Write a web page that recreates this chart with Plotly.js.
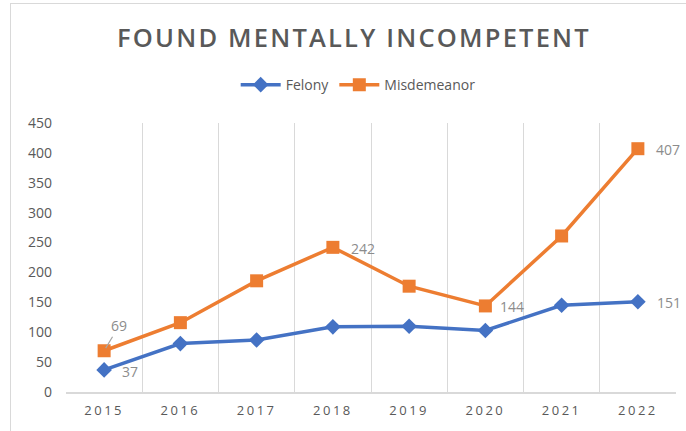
<!DOCTYPE html>
<html>
<head>
<meta charset="utf-8">
<script src="https://cdn.plot.ly/plotly-3.0.1.min.js"></script>
<style>
  html, body { margin: 0; padding: 0; background: #ffffff; overflow: hidden; }
  #frame { position: absolute; left: 10px; top: 3px; width: 700px; height: 460px;
           border-left: 1.5px solid #d9d9d9; border-top: 1.5px solid #d9d9d9; }
  #chart { position: absolute; left: 0; top: 0; width: 686px; height: 431px; }
  #chart .gtitle { letter-spacing: 2.2px; }
  #chart .xtick text { letter-spacing: 2.5px; }
</style>
</head>
<body>
<div id="frame"></div>
<div id="chart"></div>
<script>
const years = ['2015', '2016', '2017', '2018', '2019', '2020', '2021', '2022'];
const felony = [37, 81, 87, 109, 110, 103, 145, 151];
const misdemeanor = [69, 116, 186, 242, 177, 144, 261, 407];
const yTicks = [0, 50, 100, 150, 200, 250, 300, 350, 400, 450];

// which points carry a data label: [index, xshift, yshift]
const felonyLabels = [[0, 26, -2], [7, 31, -1]];
const misdLabels = [[3, 30, -1], [5, 27, -1], [7, 30, -1]];

const labelFont = { family: 'Open Sans, Liberation Sans, sans-serif', size: 14, color: '#8c8c8c' };

const annotations = [];
felonyLabels.forEach(function (d) {
  annotations.push({
    x: d[0], y: felony[d[0]], xref: 'x', yref: 'y', text: String(felony[d[0]]),
    showarrow: false, xshift: d[1], yshift: d[2], font: labelFont
  });
});
misdLabels.forEach(function (d) {
  annotations.push({
    x: d[0], y: misdemeanor[d[0]], xref: 'x', yref: 'y', text: String(misdemeanor[d[0]]),
    showarrow: false, xshift: d[1], yshift: d[2], font: labelFont
  });
});
// 2015 misdemeanor label with leader line
annotations.push({
  x: 0, y: misdemeanor[0], xref: 'x', yref: 'y', text: String(misdemeanor[0]),
  showarrow: true, arrowhead: 0, arrowwidth: 1.2, arrowcolor: '#a6a6a6',
  ax: 15, ay: -25, standoff: 3, font: labelFont
});

const traces = [
  {
    x: years, y: felony, name: 'Felony', type: 'scatter', mode: 'lines+markers',
    line: { color: '#4472C4', width: 3.5 },
    marker: { symbol: 'diamond', size: 12, color: '#4472C4' }
  },
  {
    x: years, y: misdemeanor, name: 'Misdemeanor', type: 'scatter', mode: 'lines+markers',
    line: { color: '#ED7D31', width: 3.5 },
    marker: { symbol: 'square', size: 13, color: '#ED7D31' }
  }
];

const layout = {
  width: 686, height: 431,
  paper_bgcolor: 'rgba(0,0,0,0)', plot_bgcolor: 'rgba(0,0,0,0)',
  margin: { l: 66, r: 10, t: 123, b: 39 },
  font: { family: 'Open Sans, Liberation Sans, sans-serif', color: '#595959' },
  title: {
    text: 'FOUND MENTALLY INCOMPETENT',
    x: 0.516, xref: 'container', xanchor: 'center',
    y: 1 - 38 / 431, yref: 'container', yanchor: 'middle',
    font: { family: 'Open Sans, sans-serif', size: 25.5, weight: 600, color: '#595959' }
  },
  showlegend: true,
  legend: {
    orientation: 'h', x: 0.479, xanchor: 'center', y: 1.141, yanchor: 'middle',
    font: { size: 14, color: '#595959' }, itemwidth: 40, tracegroupgap: 0
  },
  xaxis: {
    type: 'category', range: [-0.5, 7.5], tickson: 'boundaries',
    showgrid: true, gridcolor: '#d9d9d9', gridwidth: 1,
    showline: true, linecolor: '#d9d9d9', linewidth: 1.5,
    ticks: '', ticklabelstandoff: 6, tickfont: { size: 13, color: '#595959' },
    fixedrange: true
  },
  yaxis: {
    range: [0, 450], tickvals: yTicks, ticktext: yTicks.map(String),
    showgrid: false, zeroline: false, showline: false,
    ticks: '', ticklabelstandoff: 13,
    tickfont: { size: 14, color: '#595959' }, fixedrange: true
  },
  annotations: annotations
};

Plotly.newPlot('chart', traces, layout, { displayModeBar: false, staticPlot: true });
</script>
</body>
</html>
